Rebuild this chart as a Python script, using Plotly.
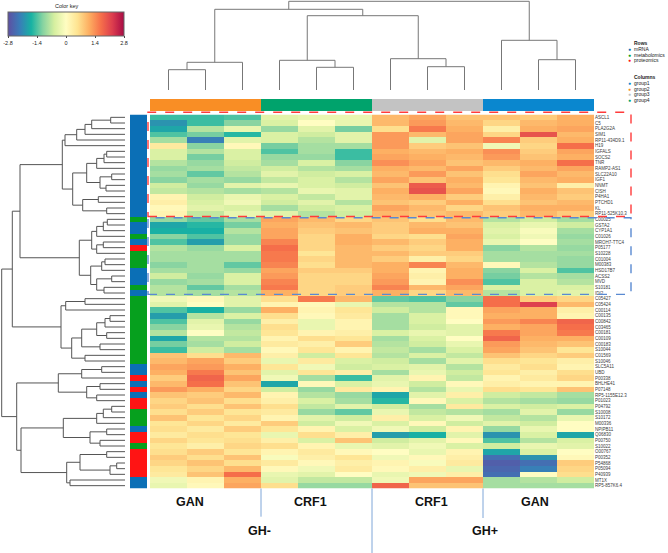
import plotly.graph_objects as go

W, H = 668, 553

# ---------------- data ----------------
row_labels = [
    "ASCL1", "C5", "PLA2G2A", "SIM1", "RP11-434D9.1", "H19", "IGFALS", "SOCS2", "TNR",
    "RAMP2-AS1", "SLC22A10", "IGF1", "NNMT", "CISH", "P4HA1", "PTCHD1", "KL", "RP11-525K10.3",
    "C00025", "GSTA2", "CYP1A1", "C01026", "MROH7-TTC4", "P05177", "S10228", "C01004", "M00383",
    "HSD17B7", "ACSS2", "MVD", "S10181", "IDI2",
    "C05427", "C05424", "C00114", "C00135", "C00842", "C03465", "C00181", "C00109", "C00183",
    "S10044", "C01569", "S10046",
    "SLC5A11", "UBD", "P00338", "BHLHE41", "P07148", "RP5-1155E12.3", "P01023", "P04792",
    "S10008", "S10172", "M00336", "NPIPB11", "Q06830", "P00750", "S10022", "O00767", "P00352",
    "P54868", "P05094", "P40939", "MT1X", "RP5-857K6.4",
]

M, B, P = "metabolomics", "mRNA", "proteomics"
row_types = (
    [B] * 18
    + [M, B, B, M, B, P, M, M, M, B, B, B, M, B]
    + [M] * 12
    + [B, B, P, B, P, B, P, P, M, M, M, B, P, P, M, P, P, P, P, P, B, B]
)

col_groups = ["group2"] * 3 + ["group4"] * 3 + ["group3"] * 3 + ["group1"] * 3

values = [
    [-1.5, -1.5, -1.4, -0.4, -0.3, -0.3, 1.0, 1.2, 0.9, 0.9, 0.8, 1.1],
    [-2.0, -1.5, -1.1, -0.5, 0.0, -0.3, 1.0, 1.3, 1.0, 0.7, 1.0, 1.1],
    [-1.8, -0.8, -0.3, -1.0, -0.4, -1.2, 0.6, 1.6, 1.1, 0.3, 1.1, 1.2],
    [-1.4, -1.2, -1.6, -0.5, -0.6, -0.4, 1.3, 1.0, 1.2, 0.7, 2.0, 1.0],
    [-0.9, -2.2, -0.4, -0.5, -0.8, -0.4, 1.3, -0.4, 1.2, 1.5, 0.8, 1.1],
    [0.4, -1.1, 0.1, -1.2, -0.9, -0.9, 1.3, 0.8, 0.9, -0.2, 0.7, 1.7],
    [-0.5, -0.8, -0.5, -1.4, -0.9, -1.5, 1.1, 1.0, 1.1, 1.4, 0.8, 1.2],
    [-0.5, -1.2, -0.5, -1.0, -1.0, -1.5, 1.2, 1.1, 1.0, 1.3, 0.9, 1.1],
    [-0.8, -1.0, -0.6, -0.9, -0.5, -1.1, 1.4, 1.2, 0.9, 1.0, 1.1, 1.7],
    [-1.0, -0.9, -0.7, -0.6, -0.8, -0.9, 1.1, 1.0, 1.2, 0.8, 1.0, 1.2],
    [-0.9, -1.3, -0.8, -0.4, -0.6, -0.5, 1.0, 1.3, 0.9, 0.6, 1.2, 1.0],
    [-1.1, -0.9, -1.0, -0.7, -0.5, -0.8, 1.2, 0.9, 1.1, 0.5, 1.0, 1.1],
    [-0.6, -1.0, -0.4, -0.3, -0.5, -0.6, 0.9, 1.9, 1.0, 0.2, 0.9, 0.3],
    [-0.7, -0.8, -0.9, -0.8, -0.3, -0.4, 1.1, 2.0, 1.2, 0.1, 1.1, 0.9],
    [0.2, -0.6, -0.3, -0.5, -0.7, -0.4, 1.0, 1.1, 0.8, 0.3, 1.0, 0.8],
    [0.3, -0.5, -0.2, -0.6, -0.4, -0.8, 0.9, 0.8, 1.1, 0.6, 0.9, 1.0],
    [0.1, -0.4, -0.5, -0.9, -0.6, -0.5, 1.2, 1.0, 0.7, 0.9, 1.1, 1.1],
    [0.2, -0.7, -0.3, -0.4, -0.8, -0.6, 1.0, 0.9, 1.0, 0.8, 1.0, 0.8],
    [-1.0, -1.3, -0.9, 1.2, 1.0, 0.7, 0.9, 0.6, 1.0, -0.8, -0.6, -0.9],
    [-1.8, -1.6, -1.2, 1.1, 0.9, 1.0, 0.8, 1.0, 0.9, -0.5, -0.3, -0.6],
    [-1.7, -1.7, -0.8, 1.2, 0.8, 0.9, 0.8, 1.1, 1.1, -0.4, -0.1, -0.9],
    [-1.1, -1.4, -1.0, 1.2, 0.7, 1.1, 0.7, 0.6, 1.2, -0.5, -0.2, -1.0],
    [-1.4, -1.9, -1.0, 1.5, 0.7, 1.1, 1.0, 0.8, 1.1, -0.3, 0.0, -0.9],
    [-0.8, -1.0, -0.5, 1.7, 0.7, 1.0, 0.8, 0.7, 1.1, -1.1, -0.8, -1.0],
    [-0.9, -0.9, -0.9, 1.6, 0.5, 1.0, 1.0, 0.8, 0.8, -0.9, -0.9, -0.9],
    [-0.9, -0.9, -0.9, 1.6, 0.7, 1.0, 0.8, 0.3, 0.7, -0.9, -0.9, -1.0],
    [-1.1, -0.9, -1.3, 1.5, 0.6, 1.0, 1.1, 1.5, 1.0, 0.1, -0.8, -1.0],
    [-0.9, -0.9, -1.0, 1.2, 0.8, 0.8, 1.1, 0.2, 1.1, -1.1, -0.5, -1.4],
    [-0.6, -1.0, -0.5, 1.3, 0.7, 0.7, 1.2, 0.3, 1.1, -1.2, -0.8, -0.9],
    [-1.0, -0.9, -0.5, 1.5, 0.7, 0.7, 1.3, 0.2, 1.4, -1.4, -0.5, -0.8],
    [-0.8, -1.3, -0.9, 1.6, 0.7, 0.8, 1.5, 1.0, 1.2, -0.5, -0.5, -0.5],
    [-0.8, -0.9, -0.8, 1.1, 0.7, 0.8, 1.1, 0.7, 1.0, -0.8, -0.5, -0.4],
    [-0.2, 0.1, -0.4, 0.6, 1.6, 1.0, -1.3, -1.4, -1.1, 1.7, 0.8, 0.7],
    [-0.4, 0.0, -0.4, 0.2, 0.1, -0.3, -0.8, -0.8, -1.3, 1.7, 2.2, 1.0],
    [-1.4, -1.7, -1.0, 1.1, 0.2, 0.5, -0.6, -0.8, 0.1, 1.2, 1.1, 0.3],
    [-1.9, -0.8, -0.5, 0.6, 0.1, 0.4, -0.9, -0.5, 0.1, 1.1, 1.1, 0.2],
    [-1.4, -0.4, -1.0, 0.3, -0.3, 0.2, -0.9, -0.5, 0.0, 1.3, 1.5, 1.8],
    [-1.1, -0.3, -0.8, 0.6, -0.3, 0.2, -0.9, -0.6, -0.4, 1.1, 1.2, 1.7],
    [-0.8, 0.0, -0.7, 0.5, 0.2, 0.3, -0.5, -0.3, -0.4, 1.6, 1.2, 1.6],
    [-1.8, -0.8, -0.8, 0.2, 0.6, 0.5, -0.9, -0.5, 0.0, 1.8, 1.1, 1.1],
    [-1.2, -0.9, -0.6, 0.4, 0.3, 0.8, -0.8, -0.6, -0.3, 1.3, 1.0, 0.9],
    [-1.5, -0.6, -0.9, 0.1, 0.5, 0.2, -0.7, -0.9, -0.5, 1.2, 0.9, 0.5],
    [0.9, 0.6, 1.0, 0.3, -0.6, 0.5, -0.8, -0.5, -0.7, 0.9, 0.7, 0.8],
    [1.0, 1.2, 0.8, -0.3, 0.4, -0.5, -0.6, -0.9, -0.4, 0.6, 0.5, 0.3],
    [1.2, 1.3, 1.1, 0.5, -0.2, -0.6, -0.5, -0.4, -0.8, 0.4, 0.6, 0.2],
    [1.1, 1.6, 0.9, -0.4, 0.5, 0.3, -0.9, -0.3, -0.6, 0.5, 0.3, 0.6],
    [0.8, 1.8, 1.2, -0.2, -0.9, -1.5, -0.4, 0.2, -0.7, 0.2, 0.4, 0.7],
    [1.0, 1.7, 0.9, -1.8, 0.1, -0.5, -0.3, -0.6, 0.1, 0.3, 0.2, 0.2],
    [1.3, 1.1, 0.7, -0.6, -1.0, 0.4, 0.2, -0.8, -0.3, 0.6, 0.5, 0.9],
    [0.9, 0.8, 1.0, 0.2, -0.8, -1.0, -1.8, -0.4, 0.3, -0.6, -0.7, -0.9],
    [0.7, 0.9, 0.6, 0.3, -0.5, -0.9, -1.6, 0.1, -0.5, -0.8, -0.9, -1.0],
    [0.8, 0.6, 0.9, 0.6, -0.7, -0.4, -0.6, -0.9, 0.4, -0.5, -0.6, -0.5],
    [0.6, 0.8, 0.5, 0.4, -1.0, -1.3, -0.3, -0.7, -0.8, -0.9, -0.4, -1.0],
    [0.9, 0.5, 0.7, 0.2, -0.4, -0.6, 0.3, -0.5, -0.2, -0.7, -0.8, -0.3],
    [0.5, 0.7, 0.4, 0.8, -0.6, -0.2, -0.5, 0.1, -0.6, -0.4, -0.6, 0.0],
    [0.6, 0.4, 0.8, 0.5, 0.2, -0.5, -0.2, -0.6, 0.2, -1.0, -0.3, 0.0],
    [0.4, 0.6, 0.5, -0.3, 0.6, 0.3, -1.9, -1.7, -0.4, -2.0, -0.5, -1.8],
    [0.7, 0.5, 0.6, 0.3, -0.5, 0.9, -0.6, -0.4, 0.1, -1.4, -0.8, -0.5],
    [0.5, 0.3, 0.7, 0.6, 0.2, -0.3, -0.4, -0.2, -0.5, -0.6, -0.3, -0.4],
    [0.6, 0.8, 0.5, 0.2, 0.4, 0.1, 0.0, -0.3, 0.2, -1.8, -0.5, 0.0],
    [0.8, 0.6, 0.9, -0.1, 0.3, 0.5, -0.2, 0.1, 0.3, -2.4, -2.0, 0.1],
    [0.7, 0.9, 0.6, 0.4, 0.1, 0.3, 0.2, -0.1, 0.4, -2.6, -2.4, 0.8],
    [0.5, 0.7, 1.0, 0.1, -0.2, 0.4, 0.1, 0.3, -0.3, -2.5, -2.2, 0.7],
    [0.4, 0.9, 1.7, -0.3, -0.4, 0.0, -0.3, -0.2, 0.3, -2.4, 0.0, 0.6],
    [-0.2, 0.2, 1.1, -0.4, -0.7, -0.7, -0.2, 1.2, 1.2, -0.9, -0.8, -0.6],
    [-0.3, 0.1, 1.2, 0.6, -1.0, -1.0, 1.8, 0.9, 0.9, -0.9, -0.9, -0.9],
]

# column dendrogram: (left, right, merge height)
col_tree = (
    (
        ((0, 1, 20.3), 2, 27.7),
        ((3, (4, 5, 22.7), 29.7), (6, (7, 8, 23.3), 31.3), 74.3),
        80.7,
    ),
    (9, (10, 11, 30.3), 49.7),
    88.7,
)

# row dendrogram: (left, right, merge height)
A_ = (((((0, 1, 14.3), 2, 33.3), 3, 40.0), 4, 48.3), 5, 60.0)
B1 = ((((6, 7, 18.3), 8, 21.0), 9, 28.3), ((10, 11, 13.3), (12, 13, 19.0), 25.0), 38.3)
B2 = ((14, 15, 26.7), (16, 17, 18.3), 42.3)
T_ = (A_, (B1, B2, 52.3), 62.7)
C1 = ((((18, 19, 17.7), 20, 21.7), 21, 28.3), ((22, 23, 21.7), 24, 28.3), 33.3)
C2 = (((25, 26, 20.0), 27, 23.3), ((28, 29, 13.3), (30, 31, 21.0), 28.3), 34.3)
C_ = (C1, C2, 45.7)
D1 = ((32, 33, 40.0), 34, 59.3)
D2a = ((((35, 36, 15.0), 37, 20.0), (38, 39, 18.3), 28.3), (40, 41, 25.0), 43.3)
D_ = (D1, (D2a, (42, 43, 40.0), 53.3), 64.0)
E_ = (((44, 45, 23.3), 46, 43.3), ((47, 48, 25.0), (49, 50, 28.3), 38.3), 66.7)
F1 = ((((51, 52, 13.3), 53, 21.7), 54, 28.3), ((55, 56, 18.3), (57, 58, 25.0), 35.0), 61.7)
F2 = (((59, 60, 18.3), ((61, 62, 8.3), 63, 15.0), 45.0), (64, 65, 55.0), 58.3)
row_tree = ((((T_, C_, 105.0), D_, 112.7)), (E_, (F1, F2, 104.0), 108.3), 123.3)

legend_rows = ["mRNA", "metabolomics", "proteomics"]
legend_cols = ["group1", "group2", "group3", "group4"]

bottom_labels = ["GAN", "CRF1", "CRF1", "GAN"]
bottom_label_pos = [0.58, 3.84, 7.12, 9.9]
gh_labels = ["GH-", "GH+"]
gh_pos = [2.47, 8.55]
group_bounds = [2.5, 5.5, 8.5]

key_ticks = [-2.8, -1.4, 0, 1.4, 2.8]

red_box_rows = (0, 17)
blue_box_rows = (18, 31)

# ---------------- styles ----------------
type_colors = {"mRNA": "#0b6fb6", "metabolomics": "#06a01e", "proteomics": "#ff1414"}
group_colors = {"group1": "#0a87cf", "group2": "#f98e25", "group3": "#c3c3c3", "group4": "#00a36c"}

spectral = [
    [0.0, "#5e4fa2"], [0.1, "#3a7cb8"], [0.2, "#17b2a3"], [0.3, "#86d3a1"],
    [0.4, "#d6efa0"], [0.5, "#fffdc2"], [0.6, "#fee391"], [0.7, "#fdae61"],
    [0.8, "#f6704a"], [0.9, "#dc3d4e"], [1.0, "#a80b45"],
]


def px_x(p):
    return p / W


def px_y(p):
    return 1 - p / H


HM_X = [px_x(150), px_x(594)]
HM_Y = [px_y(488.5), px_y(114.5)]
n_rows = len(row_labels)
n_cols = len(col_groups)


def dendro(tree):
    pos, hts = [], []

    def walk(node):
        if isinstance(node, int):
            return float(node), 0.0
        l, r, h = node
        pl, hl = walk(l)
        pr, hr = walk(r)
        pos.extend([pl, pl, pr, pr, None])
        hts.extend([hl, h, h, hr, None])
        return (pl + pr) / 2, h

    walk(tree)
    return pos, hts


fig = go.Figure()

# main heatmap
fig.add_trace(go.Heatmap(
    z=values, x=list(range(n_cols)), y=list(range(n_rows)),
    colorscale=spectral, zmin=-2.8, zmax=2.8,
    xaxis="x", yaxis="y",
    colorbar=dict(
        orientation="h", x=px_x(66), xanchor="center", y=px_y(12), yanchor="top",
        len=116 / W, lenmode="fraction", thickness=24, thicknessmode="pixels",
        xpad=0, ypad=0, outlinewidth=1, outlinecolor="#666",
        tickvals=key_ticks, ticktext=[("%g" % v) for v in key_ticks],
        ticks="outside", ticklen=2, tickcolor="#444",
        tickfont=dict(size=5.5, color="#222", family="Liberation Sans"),
    ),
))

# column dendrogram
cx, cy = dendro(col_tree)
fig.add_trace(go.Scatter(x=cx, y=cy, mode="lines", line=dict(color="#777", width=1),
                         xaxis="x2", yaxis="y2", hoverinfo="skip", showlegend=False))

# row dendrogram
ry, rx = dendro(row_tree)
fig.add_trace(go.Scatter(x=rx, y=ry, mode="lines", line=dict(color="#555", width=1),
                         xaxis="x3", yaxis="y3", hoverinfo="skip", showlegend=False))

# row side colours
type_order = ["mRNA", "metabolomics", "proteomics"]
side_z = [[type_order.index(t)] for t in row_types]
side_cs = []
for i, t in enumerate(type_order):
    side_cs.append([i / 3, type_colors[t]])
    side_cs.append([(i + 1) / 3, type_colors[t]])
fig.add_trace(go.Heatmap(z=side_z, x=[0], y=list(range(n_rows)), zmin=-0.5, zmax=2.5,
                         colorscale=side_cs, showscale=False, xaxis="x4", yaxis="y4",
                         hoverinfo="skip"))

# column side colours
g_order = ["group1", "group2", "group3", "group4"]
col_z = [[g_order.index(g) for g in col_groups]]
col_cs = []
for i, g in enumerate(g_order):
    col_cs.append([i / 4, group_colors[g]])
    col_cs.append([(i + 1) / 4, group_colors[g]])
fig.add_trace(go.Heatmap(z=col_z, x=list(range(n_cols)), y=[0], zmin=-0.5, zmax=3.5,
                         colorscale=col_cs, showscale=False, xaxis="x5", yaxis="y5",
                         hoverinfo="skip"))

hidden = dict(visible=False, showgrid=False, zeroline=False)
fig.update_layout(
    width=W, height=H, margin=dict(l=0, r=0, t=0, b=0),
    paper_bgcolor="white", plot_bgcolor="white", showlegend=False,
    xaxis=dict(domain=HM_X, range=[-0.5, n_cols - 0.5], anchor="y", **hidden),
    yaxis=dict(domain=HM_Y, range=[n_rows - 0.5, -0.5], anchor="x", side="right",
               tickvals=list(range(n_rows)), ticktext=row_labels, ticks="",
               showgrid=False, zeroline=False, showline=False,
               tickfont=dict(size=4.5, color="#3a3a3a", family="Liberation Sans")),
    xaxis2=dict(domain=HM_X, range=[-0.5, n_cols - 0.5], anchor="y2", **hidden),
    yaxis2=dict(domain=[px_y(90), 1.0], range=[0, 90], anchor="x2", **hidden),
    xaxis3=dict(domain=[0, px_x(125)], range=[125, 0], anchor="y3", **hidden),
    yaxis3=dict(domain=HM_Y, range=[n_rows - 0.5, -0.5], anchor="x3", **hidden),
    xaxis4=dict(domain=[px_x(130), px_x(147)], range=[-0.5, 0.5], anchor="y4", **hidden),
    yaxis4=dict(domain=HM_Y, range=[n_rows - 0.5, -0.5], anchor="x4", **hidden),
    xaxis5=dict(domain=HM_X, range=[-0.5, n_cols - 0.5], anchor="y5", **hidden),
    yaxis5=dict(domain=[px_y(111), px_y(99)], range=[-0.5, 0.5], anchor="x5", **hidden),
)


def row_edge(r):
    # paper y of a row boundary (r = row index +- 0.5)
    return HM_Y[1] - (r + 0.5) / n_rows * (HM_Y[1] - HM_Y[0])


shapes = []
for (r0, r1), col, pad_top, pad_bot in ((red_box_rows, "#ff3b3b", 2.2, 0.0),
                                        (blue_box_rows, "#5a8ad2", -1.2, 1.5)):
    shapes.append(dict(
        type="rect", xref="paper", yref="paper",
        x0=px_x(148), x1=px_x(631),
        y0=row_edge(r1 + 0.5) + pad_bot / H,
        y1=row_edge(r0 - 0.5) + pad_top / H,
        line=dict(color=col, width=1.4, dash="dash"), fillcolor="rgba(0,0,0,0)",
    ))

line_ends = [516.7, 553, 518]
for b, yend in zip(group_bounds, line_ends):
    shapes.append(dict(type="line", xref="x", yref="paper", x0=b, x1=b,
                       y0=px_y(488.5), y1=px_y(yend), line=dict(color="#7fa6d8", width=1)))
fig.update_layout(shapes=shapes)

ann = []
ann.append(dict(text="Color key", x=px_x(66), y=px_y(6), xref="paper", yref="paper",
                showarrow=False, xanchor="center", yanchor="middle",
                font=dict(size=5.5, color="#222", family="Liberation Sans")))
for t, p in zip(bottom_labels, bottom_label_pos):
    ann.append(dict(text="<b>%s</b>" % t, x=p, xref="x", y=px_y(501.5), yref="paper",
                    showarrow=False, xanchor="center", yanchor="middle",
                    font=dict(size=12.5, color="#111", family="Liberation Sans")))
for t, p in zip(gh_labels, gh_pos):
    ann.append(dict(text="<b>%s</b>" % t, x=p, xref="x", y=px_y(531), yref="paper",
                    showarrow=False, xanchor="center", yanchor="middle",
                    font=dict(size=12.5, color="#111", family="Liberation Sans")))

# legend
leg_font = dict(size=5, color="#222", family="Liberation Sans")
ann.append(dict(text="<b>Rows</b>", x=px_x(632), y=px_y(43), xref="paper", yref="paper",
                showarrow=False, xanchor="left", yanchor="middle", font=leg_font))
for i, t in enumerate(legend_rows):
    yy = px_y(49 + 5.5 * i)
    ann.append(dict(text="●", x=px_x(629), y=yy, xref="paper", yref="paper", showarrow=False,
                    xanchor="center", yanchor="middle",
                    font=dict(size=5, color=type_colors[t])))
    ann.append(dict(text=t, x=px_x(632), y=yy, xref="paper", yref="paper", showarrow=False,
                    xanchor="left", yanchor="middle", font=leg_font))
ann.append(dict(text="<b>Columns</b>", x=px_x(632), y=px_y(77), xref="paper", yref="paper",
                showarrow=False, xanchor="left", yanchor="middle", font=leg_font))
for i, t in enumerate(legend_cols):
    yy = px_y(83 + 5.5 * i)
    ann.append(dict(text="●", x=px_x(629), y=yy, xref="paper", yref="paper", showarrow=False,
                    xanchor="center", yanchor="middle",
                    font=dict(size=5, color=group_colors[t])))
    ann.append(dict(text=t, x=px_x(632), y=yy, xref="paper", yref="paper", showarrow=False,
                    xanchor="left", yanchor="middle", font=leg_font))
fig.update_layout(annotations=ann)

fig.write_html("out.html", config={"displayModeBar": False},
               post_script="document.body.style.margin='0px';")
